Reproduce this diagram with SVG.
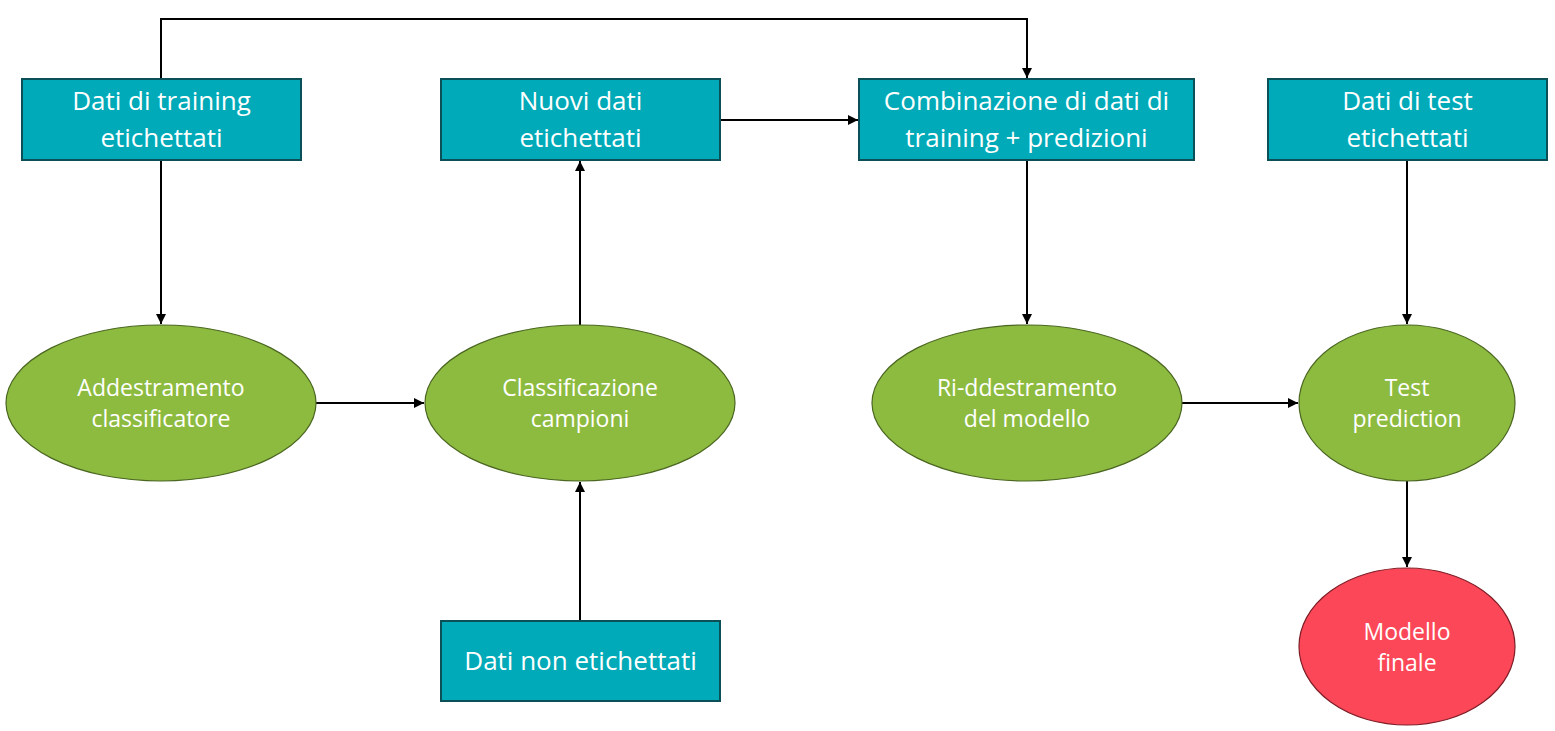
<svg xmlns="http://www.w3.org/2000/svg" width="1555" height="731" viewBox="0 0 1555 731">
<style>
.box{fill:#00AAB8;stroke:#0B4F57;stroke-width:2}
.ell{fill:#8DBB40;stroke:#4A6620;stroke-width:1.2}
.red{fill:#FC4758;stroke:#7F1D26;stroke-width:1.2}
.bt{font-family:"Open Sans","Noto Sans",sans-serif;font-size:26px;fill:#fff;text-anchor:middle}
.et{font-family:"Open Sans","Noto Sans",sans-serif;font-size:23px;fill:#fff;text-anchor:middle}
.c{fill:none;stroke:#000;stroke-width:2}
</style>
<defs>
<marker id="arr" viewBox="0 0 10 10" refX="10" refY="5" markerWidth="5" markerHeight="5" orient="auto" markerUnits="strokeWidth">
<path d="M0,0 L10,5 L0,10 z" fill="#000"/>
</marker>
</defs>
<rect width="1555" height="731" fill="#fff"/>
<g id="connectors">
<path class="c" d="M161,79 V19 H1027 V78" marker-end="url(#arr)"/>
<path class="c" d="M161,160 V324" marker-end="url(#arr)"/>
<path class="c" d="M316,403 H424" marker-end="url(#arr)"/>
<path class="c" d="M580,325 V161" marker-end="url(#arr)"/>
<path class="c" d="M580,621 V482" marker-end="url(#arr)"/>
<path class="c" d="M720,120 H858" marker-end="url(#arr)"/>
<path class="c" d="M1027,160 V324" marker-end="url(#arr)"/>
<path class="c" d="M1182,403 H1298" marker-end="url(#arr)"/>
<path class="c" d="M1407,160 V324" marker-end="url(#arr)"/>
<path class="c" d="M1407,481 V567" marker-end="url(#arr)"/>
</g>
<g id="n-training">
<rect class="box" x="22" y="79" width="279" height="81"/>
<text class="bt" x="161.5" y="110">Dati di training</text>
<text class="bt" x="161.5" y="147">etichettati</text>
</g>
<g id="n-nuovi">
<rect class="box" x="441" y="79" width="279" height="81"/>
<text class="bt" x="580.5" y="110">Nuovi dati</text>
<text class="bt" x="580.5" y="147">etichettati</text>
</g>
<g id="n-combinazione">
<rect class="box" x="859" y="79" width="335" height="81"/>
<text class="bt" x="1026.5" y="110">Combinazione di dati di</text>
<text class="bt" x="1026.5" y="147">training + predizioni</text>
</g>
<g id="n-test">
<rect class="box" x="1268" y="79" width="279" height="81"/>
<text class="bt" x="1407.5" y="110">Dati di test</text>
<text class="bt" x="1407.5" y="147">etichettati</text>
</g>
<g id="n-nonetichettati">
<rect class="box" x="441" y="621" width="279" height="80"/>
<text class="bt" x="580.5" y="670">Dati non etichettati</text>
</g>
<g id="n-addestramento">
<ellipse class="ell" cx="161" cy="403" rx="155" ry="78"/>
<text class="et" x="161" y="396">Addestramento</text>
<text class="et" x="161" y="427">classificatore</text>
</g>
<g id="n-classificazione">
<ellipse class="ell" cx="580" cy="403" rx="155" ry="78"/>
<text class="et" x="580" y="396">Classificazione</text>
<text class="et" x="580" y="427">campioni</text>
</g>
<g id="n-riaddestramento">
<ellipse class="ell" cx="1027" cy="403" rx="155" ry="78"/>
<text class="et" x="1027" y="396">Ri-ddestramento</text>
<text class="et" x="1027" y="427">del modello</text>
</g>
<g id="n-testprediction">
<ellipse class="ell" cx="1407" cy="403" rx="108" ry="78"/>
<text class="et" x="1407" y="396">Test</text>
<text class="et" x="1407" y="427">prediction</text>
</g>
<g id="n-modellofinale">
<ellipse class="red" cx="1407" cy="646.5" rx="108" ry="78.5"/>
<text class="et" x="1407" y="640">Modello</text>
<text class="et" x="1407" y="671">finale</text>
</g>
</svg>
